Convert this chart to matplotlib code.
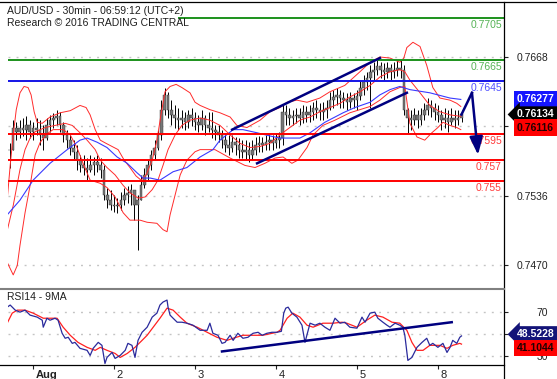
import matplotlib
matplotlib.use('Agg')
import matplotlib.pyplot as plt
import matplotlib.transforms as mtransforms
from matplotlib.lines import Line2D

plt.rcParams['font.family'] = ['Liberation Sans', 'DejaVu Sans']

# ---- price data (hourly bars, hours counted from Aug 1 00:00, weekend removed) ----
hours = list(range(-7, 128))
highs = [0.7586, 0.7608, 0.7606, 0.7608, 0.7610, 0.7612, 0.7608,
         0.7606, 0.7610, 0.7608, 0.7603, 0.7610, 0.7613, 0.7615, 0.7618, 0.7616, 0.7606,
         0.7599, 0.7594, 0.7589, 0.7584, 0.7575, 0.7575, 0.7572, 0.7575, 0.7573, 0.7575,
         0.7572, 0.7565, 0.7544, 0.7542, 0.7537, 0.7534, 0.7540, 0.7544, 0.7545, 0.7547,
         0.7542, 0.7537, 0.7556, 0.7563, 0.7570, 0.7580, 0.7589, 0.7599, 0.7627, 0.7639,
         0.7635, 0.7627, 0.7622, 0.7620, 0.7618, 0.7616, 0.7618, 0.7620, 0.7616, 0.7613,
         0.7618, 0.7613, 0.7616, 0.7616, 0.7603, 0.7603, 0.7599, 0.7596, 0.7594, 0.7594,
         0.7592, 0.7591, 0.7589, 0.7589, 0.7587, 0.7589, 0.7592, 0.7593, 0.7592, 0.7594,
         0.7595, 0.7594, 0.7596, 0.7597, 0.7622, 0.7622, 0.7620, 0.7618, 0.7620, 0.7620,
         0.7622, 0.7621, 0.7622, 0.7625, 0.7627, 0.7624, 0.7625, 0.7627, 0.7635, 0.7637,
         0.7639, 0.7637, 0.7635, 0.7634, 0.7635, 0.7634, 0.7637, 0.7646, 0.7651, 0.7654,
         0.7660, 0.7663, 0.7667, 0.7663, 0.7662, 0.7663, 0.7661, 0.7663, 0.7665, 0.7665,
         0.7660, 0.7620, 0.7618, 0.7620, 0.7618, 0.7620, 0.7624, 0.7629, 0.7627, 0.7624,
         0.7622, 0.7618, 0.7620, 0.7618, 0.7620, 0.7618, 0.7618, 0.7618]
lows = [0.7563, 0.7580, 0.7589, 0.7591, 0.7593, 0.7589, 0.7591,
        0.7589, 0.7594, 0.7584, 0.7580, 0.7589, 0.7597, 0.7601, 0.7603, 0.7597, 0.7587,
        0.7582, 0.7575, 0.7570, 0.7561, 0.7559, 0.7556, 0.7551, 0.7559, 0.7556, 0.7559,
        0.7553, 0.7532, 0.7525, 0.7523, 0.7521, 0.7520, 0.7523, 0.7527, 0.7529, 0.7527,
        0.7513, 0.7485, 0.7532, 0.7544, 0.7551, 0.7561, 0.7570, 0.7580, 0.7589, 0.7613,
        0.7610, 0.7603, 0.7601, 0.7599, 0.7601, 0.7599, 0.7601, 0.7602, 0.7599, 0.7597,
        0.7599, 0.7594, 0.7597, 0.7591, 0.7589, 0.7587, 0.7582, 0.7578, 0.7575, 0.7578,
        0.7575, 0.7572, 0.7572, 0.7570, 0.7568, 0.7570, 0.7575, 0.7578, 0.7578, 0.7580,
        0.7580, 0.7580, 0.7582, 0.7582, 0.7584, 0.7603, 0.7603, 0.7603, 0.7605, 0.7603,
        0.7605, 0.7606, 0.7606, 0.7608, 0.7610, 0.7608, 0.7608, 0.7610, 0.7618, 0.7620,
        0.7622, 0.7620, 0.7620, 0.7618, 0.7620, 0.7620, 0.7618, 0.7627, 0.7632, 0.7637,
        0.7620, 0.7646, 0.7651, 0.7648, 0.7646, 0.7648, 0.7646, 0.7648, 0.7650, 0.7648,
        0.7613, 0.7596, 0.7599, 0.7603, 0.7601, 0.7603, 0.7608, 0.7613, 0.7611, 0.7608,
        0.7606, 0.7599, 0.7601, 0.7597, 0.7603, 0.7601, 0.7603, 0.7606]
closes = [0.7580, 0.7601, 0.7597, 0.7601, 0.7599, 0.7603, 0.7597,
          0.7601, 0.7599, 0.7594, 0.7591, 0.7603, 0.7608, 0.7610, 0.7612, 0.7603, 0.7594,
          0.7589, 0.7582, 0.7578, 0.7570, 0.7565, 0.7563, 0.7561, 0.7565, 0.7568, 0.7565,
          0.7561, 0.7537, 0.7532, 0.7527, 0.7526, 0.7527, 0.7532, 0.7537, 0.7539, 0.7542,
          0.7527, 0.7532, 0.7546, 0.7556, 0.7565, 0.7575, 0.7582, 0.7594, 0.7618, 0.7632,
          0.7618, 0.7613, 0.7610, 0.7608, 0.7610, 0.7606, 0.7613, 0.7610, 0.7606, 0.7603,
          0.7610, 0.7603, 0.7601, 0.7599, 0.7597, 0.7594, 0.7589, 0.7584, 0.7582, 0.7587,
          0.7584, 0.7580, 0.7578, 0.7580, 0.7575, 0.7580, 0.7584, 0.7586, 0.7584, 0.7587,
          0.7589, 0.7586, 0.7589, 0.7591, 0.7616, 0.7613, 0.7610, 0.7612, 0.7613, 0.7610,
          0.7616, 0.7613, 0.7616, 0.7620, 0.7618, 0.7616, 0.7618, 0.7620, 0.7627, 0.7630,
          0.7632, 0.7629, 0.7627, 0.7625, 0.7629, 0.7627, 0.7631, 0.7639, 0.7644, 0.7648,
          0.7654, 0.7656, 0.7659, 0.7656, 0.7654, 0.7658, 0.7654, 0.7656, 0.7658, 0.7656,
          0.7618, 0.7610, 0.7608, 0.7613, 0.7608, 0.7613, 0.7618, 0.7622, 0.7620, 0.7616,
          0.7613, 0.7608, 0.7610, 0.7606, 0.7610, 0.7608, 0.7610, 0.76134]

# ---- bollinger bands and moving average ----
upper_h = [-7.7, -6.8, -5.9, -5.0, -3.9, -2.7, -1.5, -0.6, 0.3, 1.2, 2.7, 5.0, 8.0, 11.0,
           13.9, 15.7, 16.9, 18.4, 19.9, 21.6, 23.4, 25.2, 27.0, 28.7, 30.5, 32.0, 33.5,
           35.3, 36.7, 37.9, 39.1, 40.6, 42.4, 44.1, 46.5, 48.0, 49.5, 52.4, 55.4, 58.4,
           60.4, 63.4, 67.3, 70.2, 73.2, 75.3, 78.2, 81.2, 85.0, 88.0, 92.4, 96.9, 99.9,
           102.8, 105.8, 108.7, 109.9, 110.8, 112.6, 114.7, 116.7, 118.5, 120.6, 123.6,
           125.6, 126.8]
upper_p = [0.7532, 0.7565, 0.7594, 0.7618, 0.7634, 0.7640, 0.7639, 0.7632, 0.7616, 0.7606,
           0.7605, 0.7611, 0.7615, 0.7617, 0.7622, 0.7620, 0.7613, 0.7599, 0.7589, 0.7586,
           0.7583, 0.7580, 0.7570, 0.7563, 0.7555, 0.7551, 0.7556, 0.7570, 0.7589, 0.7613,
           0.7635, 0.7640, 0.7642, 0.7639, 0.7634, 0.7625, 0.7622, 0.7618, 0.7615, 0.7611,
           0.7603, 0.7601, 0.7608, 0.7616, 0.7620, 0.7625, 0.7627, 0.7625, 0.7629, 0.7635,
           0.7641, 0.7654, 0.7663, 0.7668, 0.7667, 0.7663, 0.7667, 0.7677, 0.7682, 0.7678,
           0.7660, 0.7639, 0.7629, 0.7627, 0.7624, 0.7621]
mid_h = [-7.7, -5.9, -3.9, -2.4, -0.9, 0.6, 3.6, 6.5, 9.5, 11.6, 13.9, 16.0, 18.4, 19.9,
         21.9, 24.3, 26.7, 28.7, 31.1, 33.2, 35.3, 37.0, 38.5, 40.0, 42.1, 44.1, 46.5, 49.5,
         52.4, 55.4, 58.4, 61.3, 64.3, 67.3, 70.2, 73.2, 76.1, 79.1, 82.1, 85.0, 88.0, 91.0,
         93.9, 96.9, 99.9, 102.8, 105.8, 108.7, 110.2, 111.7, 114.7, 117.6, 120.6, 123.6,
         126.8]
mid_p = [0.7503, 0.7527, 0.7561, 0.7580, 0.7591, 0.7597, 0.7601, 0.7603, 0.7605, 0.7603,
         0.7596, 0.7589, 0.7580, 0.7570, 0.7563, 0.7556, 0.7546, 0.7539, 0.7534, 0.7535,
         0.7542, 0.7551, 0.7565, 0.7580, 0.7594, 0.7603, 0.7608, 0.7610, 0.7608, 0.7603,
         0.7594, 0.7586, 0.7582, 0.7583, 0.7586, 0.7594, 0.7601, 0.7608, 0.7611, 0.7616,
         0.7620, 0.7624, 0.7630, 0.7635, 0.7641, 0.7649, 0.7654, 0.7656, 0.7654, 0.7646,
         0.7634, 0.7622, 0.7616, 0.7613, 0.76116]
lower_h = [-7.7, -5.9, -4.7, -3.9, -2.4, -0.9, 0.6, 2.1, 4.1, 5.9, 8.9, 11.0, 13.0, 14.8,
           16.9, 19.9, 21.9, 24.3, 26.7, 28.7, 31.7, 33.8, 36.7, 38.5, 39.7, 40.6, 42.1,
           43.6, 45.6, 48.0, 49.5, 53.9, 58.4, 62.8, 65.8, 68.7, 71.7, 74.1, 76.7, 78.5,
           81.2, 83.0, 85.9, 89.5, 93.9, 96.9, 99.9, 102.8, 105.8, 108.7, 110.2, 111.7,
           113.8, 116.1, 118.2, 120.0, 121.5, 123.6, 125.6, 126.8]
lower_p = [0.7473, 0.7461, 0.7470, 0.7489, 0.7520, 0.7546, 0.7575, 0.7587, 0.7595, 0.7599,
           0.7599, 0.7594, 0.7582, 0.7567, 0.7551, 0.7548, 0.7544, 0.7535, 0.7520, 0.7513,
           0.7513, 0.7511, 0.7510, 0.7504, 0.7502, 0.7518, 0.7537, 0.7556, 0.7570, 0.7578,
           0.7580, 0.7580, 0.7572, 0.7565, 0.7563, 0.7567, 0.7572, 0.7573, 0.7567, 0.7570,
           0.7582, 0.7594, 0.7603, 0.7608, 0.7615, 0.7618, 0.7621, 0.7627, 0.7635, 0.7639,
           0.7640, 0.7605, 0.7592, 0.7589, 0.7596, 0.7601, 0.7606, 0.7603, 0.7601, 0.7599]
ma_h = [-7.7, -3.9, 0.0, 5.0, 10.1, 13.9, 16.0, 19.0, 21.9, 24.9, 27.9, 30.8, 32.6, 34.7,
        37.6, 41.5, 45.6, 49.5, 53.3, 55.4, 59.3, 62.2, 66.4, 70.2, 73.2, 79.1, 82.1, 86.5,
        91.9, 95.4, 99.9, 102.8, 105.8, 108.7, 111.7, 117.6, 123.6, 126.8]
ma_p = [0.7518, 0.7532, 0.7551, 0.7567, 0.7580, 0.7589, 0.7591, 0.7587, 0.7582, 0.7573,
        0.7567, 0.7558, 0.7553, 0.7553, 0.7551, 0.7559, 0.7563, 0.7573, 0.7580, 0.7589,
        0.7599, 0.7599, 0.7596, 0.7593, 0.7591, 0.7591, 0.7596, 0.7606, 0.7615, 0.7620,
        0.7625, 0.7632, 0.7637, 0.7640, 0.7637, 0.7634, 0.7629, 0.76277]

# ---- support / resistance levels ----
level_vals = [0.7705, 0.7665, 0.7645, 0.7595, 0.757, 0.755]
level_text = ['0.7705', '0.7665', '0.7645', '0.7595', '0.757', '0.755']

# ---- channel lines and forecast path ----
channel_upper_h = [59.0, 102.8]
channel_upper_p = [0.7599, 0.7667]
channel_lower_h = [66.4, 110.8]
channel_lower_p = [0.7567, 0.7634]
forecast_h = [127.0, 130.1, 131.9]
forecast_p = [0.76134, 0.7634, 0.7575]

# ---- RSI(14) and its 9 period MA ----
rsi_h = [-7.7, -6.8, -5.3, -3.9, -2.4, -0.9, 1.2, 2.7, 3.0, 4.1,
         5.0, 6.5, 7.4, 8.6, 9.5, 10.4, 11.6, 12.4, 13.9, 16.0,
         16.9, 17.8, 19.3, 20.4, 21.3, 21.9, 23.4, 24.3, 25.8, 27.3,
         28.1, 29.3, 30.2, 31.1, 32.3, 33.8, 35.3, 36.7, 37.6, 38.5,
         39.7, 40.0, 40.6, 41.5, 42.7, 44.1, 45.6, 47.4, 49.5, 51.6,
         52.4, 53.3, 54.8, 56.0, 56.9, 58.4, 59.3, 60.7, 62.2, 63.7,
         65.2, 66.7, 67.9, 69.3, 70.8, 72.3, 73.6, 74.3, 74.9, 75.6,
         76.7, 78.2, 79.7, 80.6, 82.1, 83.6, 85.0, 86.5, 88.0, 89.5,
         91.0, 92.4, 93.9, 96.0, 97.5, 98.4, 99.9, 101.3, 102.2, 103.7,
         104.9, 105.8, 107.3, 108.7, 109.6, 110.2, 111.1, 112.3, 113.8, 115.3,
         116.7, 117.6, 118.5, 120.0, 121.5, 122.7, 123.6, 124.4, 125.6, 126.5,
         127.0]
rsi_v = [74.5, 76.4, 71.8, 70.0, 71.8, 67.3, 65.5, 62.7, 56.4, 64.5,
         62.7, 64.5, 62.7, 50.9, 46.4, 47.3, 41.8, 42.7, 37.3, 35.5,
         30.9, 37.3, 42.7, 40.0, 23.6, 29.1, 33.6, 28.2, 30.9, 35.5,
         41.8, 40.0, 29.1, 44.5, 51.8, 56.4, 65.5, 69.1, 76.4, 79.1,
         80.9, 74.5, 67.3, 64.5, 60.9, 60.9, 60.0, 58.2, 53.6, 53.6,
         60.0, 50.9, 49.1, 41.8, 42.7, 49.1, 44.5, 50.9, 46.4, 47.3,
         50.9, 51.8, 49.1, 50.9, 51.8, 51.8, 52.7, 69.1, 73.6, 74.5,
         69.1, 65.5, 58.2, 42.7, 60.0, 58.2, 60.0, 56.4, 53.6, 64.5,
         60.0, 60.9, 56.4, 55.5, 65.5, 60.9, 69.1, 70.0, 64.5, 60.9,
         58.2, 56.4, 60.0, 58.2, 56.4, 49.1, 26.4, 29.1, 38.2, 42.7,
         46.4, 40.0, 41.8, 38.2, 41.8, 33.6, 38.2, 44.5, 41.8, 47.3,
         48.52]
rsi_ma_h = [-7.7, -6.2, -4.7, -2.4, 0.0, 3.0, 7.1, 8.9, 11.0, 13.3,
            16.0, 18.4, 19.9, 21.9, 24.3, 25.8, 27.9, 30.2, 32.3, 33.8,
            35.6, 37.6, 39.7, 41.5, 43.6, 45.6, 48.6, 51.6, 54.5, 57.5,
            59.3, 62.2, 65.2, 68.1, 72.3, 73.2, 75.3, 77.0, 79.1, 81.2,
            83.0, 85.9, 88.9, 91.6, 93.0, 96.0, 98.9, 101.3, 103.7, 106.4,
            108.7, 110.8, 112.3, 113.8, 115.6, 117.6, 120.6, 122.7, 124.4, 126.5,
            127.0]
rsi_ma_v = [60.0, 69.1, 71.8, 71.8, 69.1, 64.5, 64.5, 56.4, 49.1, 42.7,
            38.2, 35.5, 38.2, 35.5, 32.7, 29.1, 32.7, 38.2, 44.5, 49.1,
            56.4, 64.5, 73.6, 71.8, 65.5, 60.0, 56.4, 51.8, 47.3, 44.5,
            46.4, 49.1, 49.1, 49.1, 51.8, 53.6, 64.5, 69.1, 65.5, 58.2,
            56.4, 60.0, 60.0, 60.9, 60.0, 56.4, 62.7, 67.3, 65.5, 60.9,
            60.0, 53.6, 42.7, 35.5, 35.5, 40.0, 40.0, 37.3, 40.0, 41.8,
            41.10]
rsi_trend_h = [56.0, 124.1]
rsi_trend_v = [34.5, 60.9]

day_ticks = [0, 24, 48, 72, 96, 120]
day_labels = ['Aug', '2', '3', '4', '5', '8']

navy = '#000080'
band_red = '#ff2b2b'

fig = plt.figure(figsize=(5.57, 3.79), dpi=100)
fig.patch.set_facecolor('white')


def fx(px):
    return px / 557


def fy(py):
    return 1 - py / 379


ax = fig.add_axes([fx(8), fy(289), fx(504) - fx(8), fy(2) - fy(289)])
rsi_ax = fig.add_axes([fx(8), fy(364.5), fx(504) - fx(8), fy(289) - fy(364.5)])
x_min, x_max = -7.45, 139.6

# candles
opens = [closes[0]] + closes[:-1]
bodies = [c - o for o, c in zip(opens, closes)]
ax.vlines(hours, lows, highs, color='black', lw=0.7, zorder=3)
ax.bar(hours, bodies, bottom=opens, width=0.78, color='#777777',
       edgecolor='#333333', lw=0.3, zorder=4)

# indicators
ax.plot(upper_h, upper_p, color=band_red, lw=0.7, zorder=5)
ax.plot(mid_h, mid_p, color=band_red, lw=0.7, zorder=5)
ax.plot(lower_h, lower_p, color=band_red, lw=0.7, zorder=5)
ax.plot(ma_h, ma_p, color='#3a3aff', lw=0.8, zorder=5)

# levels
line_cols = ['#1c921c', '#1c921c', '#1414e6', '#ff0000', '#ff0000', '#ff0000']
text_cols = ['#56b356', '#56b356', '#5050ff', '#ff3b3b', '#ff3b3b', '#ff3b3b']
level_tr = mtransforms.blended_transform_factory(ax.transAxes, ax.transData)
for i, (val, txt) in enumerate(zip(level_vals, level_text)):
    start = 43 if i == 0 else x_min
    ax.hlines(val, start, x_max, color=line_cols[i], lw=1.4, zorder=6)
    ax.annotate(txt, xy=(1, val), xycoords=level_tr, xytext=(-1.5, -1.5),
                textcoords='offset points', ha='right', va='top',
                color=text_cols[i], fontsize=7.5, zorder=6)

# channel and forecast
ax.plot(channel_upper_h, channel_upper_p, color=navy, lw=1.8, zorder=7)
ax.plot(channel_lower_h, channel_lower_p, color=navy, lw=1.8, zorder=7)
ax.plot(forecast_h[:2], forecast_p[:2], color=navy, lw=1.8, zorder=8)
ax.annotate('', xy=(forecast_h[2], forecast_p[2]), xytext=(forecast_h[1], forecast_p[1]),
            arrowprops=dict(arrowstyle='-|>,head_length=0.6,head_width=0.22',
                            color=navy, lw=1.8, mutation_scale=18,
                            shrinkA=0, shrinkB=0), zorder=8)

ax.set_xlim(x_min, x_max)
ax.set_ylim(0.74476, 0.772025)
ax.set_xticks([])
ax.set_yticks([0.7470, 0.7536, 0.7602, 0.7668])
# the 0.7602 label sits under the price tags in the original
ax.set_yticklabels(['0.7470', '0.7536', '', '0.7668'])
ax.yaxis.tick_right()
ax.tick_params(axis='y', length=3, width=0.8, pad=28.6, labelsize=7.5,
               colors='#222222')
for lab in ax.get_yticklabels():
    lab.set_ha('right')
for s in ax.spines.values():
    s.set_visible(False)
ax.grid(axis='y', color='#c4c4c4', lw=1.0, linestyle=(0, (1.4, 4.4)))
ax.set_axisbelow(True)


def tag(axis, y, text, face, color, style='square'):
    tr = mtransforms.blended_transform_factory(axis.transAxes, axis.transData)
    axis.text(1.0255, y, text, transform=tr, ha='left', va='center',
              fontsize=7.5, fontweight='bold', color=color,
              bbox=dict(boxstyle=style + ',pad=0.3', fc=face, ec='none'),
              clip_on=False, zorder=20)


tag(ax, 0.76277, '0.76277', '#1515ff', 'white')
tag(ax, 0.76134, '0.76134', 'black', 'white', 'larrow')
tag(ax, 0.7601, '0.76116', '#ff0000', '#220000')

# RSI panel
rsi_ax.plot(rsi_ma_h, rsi_ma_v, color='#ff2020', lw=0.9, zorder=4)
rsi_ax.plot(rsi_h, rsi_v, color='#2a2a9c', lw=0.9, zorder=5)
rsi_ax.plot(rsi_trend_h, rsi_trend_v, color=navy, lw=1.8, zorder=6)
rsi_ax.set_xlim(x_min, x_max)
rsi_ax.set_ylim(22.7, 90.9)
rsi_ax.set_yticks([30, 50, 70])
rsi_ax.set_yticklabels(['30', '', '70'])
rsi_ax.yaxis.tick_right()
rsi_ax.tick_params(axis='y', length=3, width=0.8, pad=28.6, labelsize=7.5,
                   colors='#222222')
for lab in rsi_ax.get_yticklabels():
    lab.set_ha('right')
rsi_ax.grid(axis='y', color='#c4c4c4', lw=1.0, linestyle=(0, (1.4, 4.4)))
rsi_ax.set_axisbelow(True)
rsi_ax.set_xticks(day_ticks)
rsi_ax.set_xticklabels(day_labels)
rsi_ax.tick_params(axis='x', length=3, width=0.8, pad=1, labelsize=8,
                   colors='#222222')
shift = mtransforms.ScaledTranslation(2.5 / 100, 0, fig.dpi_scale_trans)
for lab in rsi_ax.get_xticklabels():
    lab.set_ha('left')
    lab.set_transform(lab.get_transform() + shift)
    if lab.get_text() == 'Aug':
        lab.set_fontweight('bold')
for s in rsi_ax.spines.values():
    s.set_visible(False)

tag(rsi_ax, 50.0, '48.5228', '#141478', 'white', 'larrow')
tag(rsi_ax, 37.3, '41.1044', '#ff0000', '#220000')

# frame lines
fig.add_artist(Line2D([0, 1], [fy(1.5), fy(1.5)], color='black', lw=0.9))
fig.add_artist(Line2D([fx(504), fx(504)], [0, fy(1.5)], color='black', lw=0.9))
fig.add_artist(Line2D([0, fx(504)], [fy(289), fy(289)], color='#808080', lw=1.5))
fig.add_artist(Line2D([0, fx(504)], [fy(364.5), fy(364.5)], color='black', lw=0.9))

# titles
fig.text(fx(7), fy(5.5), 'AUD/USD - 30min - 06:59:12 (UTC+2)', fontsize=7.5,
         va='top', color='#1e1e1e')
fig.text(fx(7), fy(18.2), 'Research \u00a9 2016 TRADING CENTRAL', fontsize=7.5,
         va='top', color='#1e1e1e')
fig.text(fx(7), fy(291.5), 'RSI14 - 9MA', fontsize=7.5, va='top', color='#1e1e1e')

fig.savefig('out.png', dpi=100, facecolor='white')
